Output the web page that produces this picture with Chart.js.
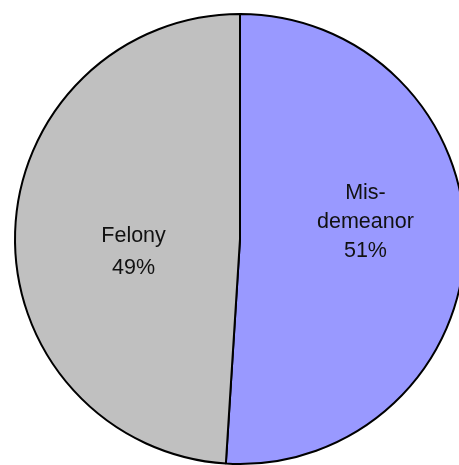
<!DOCTYPE html>
<html>
<head>
<meta charset="utf-8">
<script src="https://cdn.jsdelivr.net/npm/chart.js@4/dist/chart.umd.min.js"></script>
<style>
  html, body { margin: 0; padding: 0; background: #fff; overflow: hidden; }
  #wrap { width: 480px; height: 478px; }
</style>
</head>
<body>
<div id="wrap"><canvas id="pieChart" width="480" height="478"></canvas></div>
<script>
// categories and values
const categories = ['Misdemeanor', 'Felony'];
const labelLines = [['Mis-', 'demeanor', '51%'], ['Felony', '49%']];
const values = [51, 49];
const sliceColors = ['#9999FF', '#C0C0C0'];

// label nudges relative to each slice's centre point
const labelNudge = [
    { dx: 13, dy: -44, lineHeight: 29 },
    { dx: 6, dy: 7, lineHeight: 31.5 }
];

const sliceLabels = {
    id: 'sliceLabels',
    afterDatasetsDraw(chart) {
        const ctx = chart.ctx;
        const meta = chart.getDatasetMeta(0);
        ctx.save();
        ctx.fillStyle = '#111';
        ctx.font = '21.5px "Liberation Sans", Arial, Helvetica, sans-serif';
        ctx.textAlign = 'center';
        ctx.textBaseline = 'alphabetic';
        meta.data.forEach((arc, i) => {
            const p = arc.getCenterPoint();
            const n = labelNudge[i];
            labelLines[i].forEach((line, j) => {
                ctx.fillText(line, p.x + n.dx, p.y + n.dy + j * n.lineHeight);
            });
        });
        ctx.restore();
    }
};

new Chart(document.getElementById('pieChart'), {
    type: 'pie',
    data: {
        labels: categories,
        datasets: [{
            data: values,
            backgroundColor: sliceColors,
            borderColor: '#000',
            borderWidth: 2
        }]
    },
    options: {
        responsive: false,
        animation: false,
        radius: 225,
        layout: { padding: 0 },
        plugins: {
            legend: { display: false },
            tooltip: { enabled: false }
        }
    },
    plugins: [sliceLabels]
});
</script>
</body>
</html>
